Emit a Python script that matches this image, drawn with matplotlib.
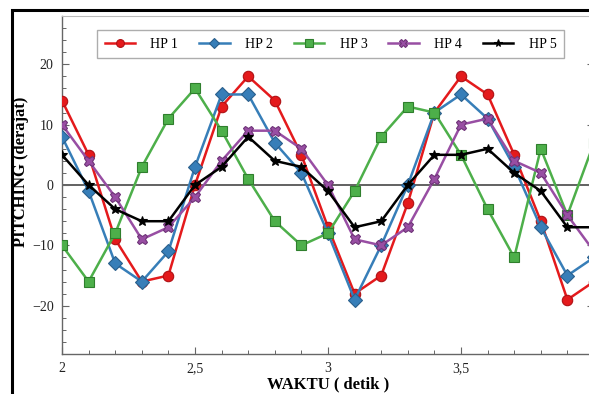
import numpy as np
import matplotlib
matplotlib.use("Agg")
import matplotlib.pyplot as plt
from matplotlib.patches import Rectangle
from matplotlib.ticker import MultipleLocator, FuncFormatter

plt.rcParams['font.family'] = ['Liberation Serif', 'DejaVu Serif']
plt.rcParams['axes.unicode_minus'] = True

# waktu (detik)
waktu = [2.0, 2.1, 2.2, 2.3, 2.4, 2.5, 2.6, 2.7, 2.8, 2.9, 3.0,
         3.1, 3.2, 3.3, 3.4, 3.5, 3.6, 3.7, 3.8, 3.9, 4.0]

# pitching (derajat) per HP
hp1 = [14, 5, -9, -16, -15, 0, 13, 18, 14, 5, -7,
       -18, -15, -3, 12, 18, 15, 5, -6, -19, -16]
hp2 = [8, -1, -13, -16, -11, 3, 15, 15, 7, 2, -8,
       -19, -10, 0, 12, 15, 11, 3, -7, -15, -12]
hp3 = [-10, -16, -8, 3, 11, 16, 9, 1, -6, -10, -8,
       -1, 8, 13, 12, 5, -4, -12, 6, -5, 7]
hp4 = [10, 4, -2, -9, -7, -2, 4, 9, 9, 6, 0,
       -9, -10, -7, 1, 10, 11, 4, 2, -5, -11]
hp5 = [5, 0, -4, -6, -6, 0, 3, 8, 4, 3, -1,
       -7, -6, 0, 5, 5, 6, 2, -1, -7, -7]

labels = ['HP 1', 'HP 2', 'HP 3', 'HP 4', 'HP 5']
series = [hp1, hp2, hp3, hp4, hp5]
colors = ['#e41a1c', '#377eb8', '#4daf4a', '#984ea3', '#000000']
edges = ['#b01014', '#2a5f8c', '#2f7f2d', '#6f3378', '#000000']
markers = ['o', 'D', 's', 'X', '*']
msizes = [7.5, 7, 7, 7.5, 7.5]

W, H = 589, 394
fig = plt.figure(figsize=(W / 100, H / 100), dpi=100)

# outer frame (cut off on the right and bottom)
fig.patches.append(Rectangle((12 / W, -0.2), 1.5, (H - 10) / H + 0.2,
                             transform=fig.transFigure, fill=False,
                             edgecolor='black', linewidth=2.2))

ax = fig.add_axes([62 / W, (H - 354) / H, (594 - 62) / W, (354 - 16) / H])

ax.axhline(0, color='#555555', linewidth=1.3, zorder=1)

for y, lab, c, ec, m, ms in zip(series, labels, colors, edges, markers, msizes):
    ax.plot(waktu, y, color=c, linewidth=1.8, marker=m, markersize=ms,
            markerfacecolor=c, markeredgecolor=ec, markeredgewidth=0.8,
            label=lab, zorder=3)

ax.set_xlim(2, 4)
ax.set_ylim(-28, 28)
ax.xaxis.set_major_locator(MultipleLocator(0.5))
ax.xaxis.set_minor_locator(MultipleLocator(0.1))
ax.yaxis.set_major_locator(MultipleLocator(10))
ax.yaxis.set_minor_locator(MultipleLocator(2))
ax.xaxis.set_major_formatter(FuncFormatter(lambda v, p: ('%g' % v).replace('.', ',')))
ax.yaxis.set_major_formatter(FuncFormatter(lambda v, p: ('%g' % v).replace('-', '\u2212')))

ax.tick_params(which='both', direction='in', top=False, right=True,
               color='#666666', labelsize=10, labelcolor='#222222')
ax.tick_params(which='major', length=5, width=0.8, pad=6)
ax.tick_params(which='minor', length=3, width=0.7)
for side in ['left', 'bottom']:
    ax.spines[side].set_color('#666666')
    ax.spines[side].set_linewidth(1.0)
ax.spines['top'].set_color('#bbbbbb')
ax.spines['right'].set_color('#bbbbbb')

ax.set_xlabel('WAKTU ( detik )', fontsize=12, fontweight='bold', labelpad=1)
ax.set_ylabel('PITCHING (derajat)', fontsize=12, fontweight='bold')
ax.yaxis.set_label_coords((29 - 62) / (594 - 62), (354 - 172) / (354 - 16))

leg = ax.legend(loc='upper left', bbox_to_anchor=((97 - 62) / (594 - 62), 1 - (30 - 16) / (354 - 16)),
                ncol=5, frameon=True, fancybox=False, fontsize=10,
                handlelength=2.2, columnspacing=1.5, markerscale=0.75,
                borderpad=0.55, handletextpad=1.1, borderaxespad=0)
leg.get_frame().set_edgecolor('#999999')
leg.get_frame().set_linewidth(1.0)

fig.savefig('out.png', dpi=100)
